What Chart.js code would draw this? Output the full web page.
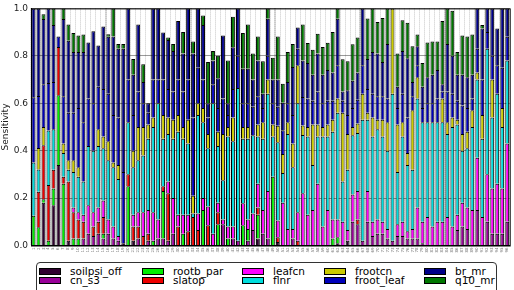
<!DOCTYPE html>
<html>
<head>
<title>Sensitivity</title>
<script src="https://cdn.jsdelivr.net/npm/chart.js"></script>
<style>
  body { margin: 0; background: #fff; font-family: "DejaVu Sans", sans-serif; }
  #wrap { position: relative; width: 514px; height: 290px; overflow: hidden; }
  #box { position: absolute; left: 36px; top: 262px; width: 459px; height: 40px;
         border: 1.5px solid #333; border-radius: 4px; }
  .txt { position: absolute; font-size: 10.5px; line-height: 10px; color: #000; white-space: nowrap; }
  .sw { position: absolute; width: 20px; height: 5px; border: 1px solid #000; }
</style>
</head>
<body>
<div id="wrap">
  <canvas id="chart" width="514" height="258"></canvas>
  <div id="box"></div>
</div>
<script>
const names = ["soilpsi_off", "cn_s3", "rootb_par", "slatop", "leafcn",
               "flnr", "frootcn", "froot_leaf", "br_mr", "q10_mr"];
const colors = ["#300030", "#990099", "#00ee00", "#ee0000", "#ff00ff",
                "#00dddd", "#cccc00", "#0000bb", "#000088", "#007700"];

const labels = [];
for (let i = 1; i <= 96; i++) labels.push(String(i));

const soilpsi_off = [0,0,.18,0,.17,.34,0,.02,0,0, 0,0,0,0,0,0,0,0,.01,0, .02,0,0,0,0,0,0,0,0,0,
  0,0,0,0,0,0,0,0,0,0, 0,0,0,0,0,.03,0,0,0,.015, 0,0,0,0,0,0,0,0,0,0, 0,.01,0,.02,0,0,0,0,0,0,
  0,0,0,0,0,0,0,0,0,0, 0,0,0,0,0,0,0,0,0,0, 0,0,0,0,0,0];
const cn_s3 = [0,0,0,0,0,0,0,0,0,0, .03,.05,.04,.05,.03,.05,.03,.02,0,0, 0,.03,0,.02,0,.03,.03,.02,.05,0,
  0,0,0,0,0,0,0,0,.09,0, .03,.02,0,.02,.065,0,.05,.03,0,0, 0,0,.03,0,0,0,0,0,0,0, 0,0,0,0,.1,.09,.02,.1,.04,.05,
  .05,.03,.02,.04,.04,.03,.03,.03,.01,0, 0,0,0,0,0,.065,.08,.07,0,.15, 0,.1,.05,.05,.05,.1];
const rootb_par = [.125,.077,.015,.02,.07,.294,.26,0,.03,.03, 0,0,0,0,.02,0,0,0,0,.25, 0,0,0,0,.02,0,.2,0,0,0,
  .05,0,0,0,.15,0,0,.09,0,.03, 0,0,.085,.05,0,.1,0,0,.29,0, 0,0,0,0,0,0,0,0,0,0, .03,.025,0,0,0,0,0,0,0,0,
  0,0,0,0,0,0,0,0,0,0, 0,0,0,0,0,0,0,0,0,0, 0,0,0,0,0,0];
const slatop = [0,.15,.228,.235,.08,.203,.03,.25,.11,.08, .07,0,.04,.05,.07,0,0,0,0,.05, .06,.05,.04,.03,0,0,.02,.2,0,.08,
  0,.06,.12,.065,0,.085,0,.05,0,0, 0,0,0,0,0,.03,0,0,0,.02, 0,0,0,.02,0,0,0,0,0,0, 0,0,0,0,0,.02,0,0,0,0,
  0,0,0,0,0,0,0,0,0,0, 0,0,0,0,0,0,0,0,0,0, 0,0,0,0,0,0];
const leafcn = [0,0,0,0,0,0,0,0,.02,.03, .03,.12,.06,.06,.07,.06,.05,.02,0,0, .05,.06,.1,.1,.12,.08,0,.05,.15,.05,
  .08,.07,0,.07,.05,.08,.05,.04,.02,.05, .05,0,.093,.04,.07,.1,.1,.2,0,.07, .18,.07,.04,.12,.22,.13,.15,.26,.08,.15,
  .08,.075,.1,.045,.115,.12,0,.13,.06,.06, .05,.04,0,.05,.06,.03,.04,.13,.09,.12, .08,.1,.1,.12,.08,.065,.1,.09,.15,.22,
  .12,.2,.19,.21,.19,.33];
const flnr = [.225,.094,0,.23,.17,0,.1,.05,.15,.15, .14,.25,.26,.26,.22,.25,.25,.24,0,.22, .2,.22,.24,.3,.36,.49,.2,.2,.25,.35,
  .32,.3,.015,.415,.32,.245,.55,.24,.165,.38, .36,.644,.272,.34,.33,.2,.3,.41,.17,.33, .126,.4,.26,.46,.246,.33,.19,.2,.38,.31,
  .37,.45,.17,.255,.25,.245,.51,.3,.36,.38, .36,.33,.62,.22,.36,.28,.25,.46,.42,.4, .44,.42,.42,.35,.42,.38,.22,.25,.35,.33,
  .33,.53,.3,.38,.26,.35];
const frootcn = [0,.09,.077,0,0,0,.04,.04,.05,.04, 0,0,0,.07,.05,.08,.02,.06,0,0, .07,.14,.12,.06,.04,0,.1,.07,.08,.07,
  .05,.1,.075,.05,.06,.06,0,.06,.195,.04, .1,0,.05,.05,0,.05,.07,.06,.05,.07, .08,.05,.1,.16,.04,.04,.17,.05,.04,.05,
  .05,.06,.29,.15,.035,.04,.11,.03,.08,.04, .07,.12,.36,.2,.06,.05,.25,.09,0,0, 0,0,.1,.05,.04,.02,.07,.07,.07,.03,
  .1,0,.16,0,.08,0];
const froot_leaf = [.275,.22,.18,.2,.2,.045,.2,.2,.2,.25, .25,.2,.2,.18,.2,.2,.2,.2,.3,.18, .15,.15,.1,.05,.16,.1,.15,.12,.12,.15,
  .15,.17,.33,.15,.12,.07,.08,.1,.15,.05, .12,.136,.1,.1,.12,.12,.06,.1,.09,.08, .1,.08,.12,.07,.12,.12,.1,.14,.1,.1,
  .08,.14,.05,.08,.08,.1,.12,.1,.1,.1, .1,.1,0,.07,.12,.15,.06,.05,.06,.08, .08,.1,.03,.13,.1,.08,.12,.1,.05,.1,
  .15,.07,.1,.12,.17,.1];
const br_mr = [.375,.369,.275,.315,.24,0,.325,.304,.256,.236, .296,.236,.304,.173,.264,.24,.332,.29,.52,.3,
  .17,.282,.09,.04,.3,.3,.198,.207,.17,.247, .16,.3,.27,.25,.23,.06,.1,.125,.266,.05,
  .176,.2,.145,.145,.115,.15,.06,.156,.1,.115, .116,.09,.203,.089,.154,.15,.11,.16,.12,.13,
  .12,.196,.04,.105,.115,.115,.24,.127,.176,.18, .144,.23,0,.09,.18,.25,.06,.08,.09,.11,
  .12,.12,.03,.2,.16,.11,.13,.13,.1,.17, .215,.1,.2,.155,.25,.12];
const q10_mr = [0,0,.02,0,.07,0,.045,.068,.08,.07, .074,0,0,0,0,.011,.118,.02,.02,0, .067,0,.074,0,0,0,0,.01,.03,0,
  .09,0,.05,0,.04,.174,.04,.095,0,.18, .129,0,.151,.187,.11,.102,.137,.044,.092,.182, .08,.126,.097,0,.152,.084,.106,.083,.117,.115,
  .17,.044,.136,.122,.154,.147,0,.17,.184,.133, .186,.15,0,.14,.13,.15,.15,.05,.1,.146, .14,.12,.267,.15,.19,.096,.166,.172,.17,0,
  .015,0,0,0,0,0];

const series = [soilpsi_off, cn_s3, rootb_par, slatop, leafcn, flnr, frootcn, froot_leaf, br_mr, q10_mr];
const bands = [15, 32, 49, 66, 83];

const datasets = series.map(function (vals, k) {
  return {
    label: names[k],
    data: vals,
    backgroundColor: colors[k],
    borderColor: "#000",
    borderWidth: 1,
    barPercentage: 1,
    categoryPercentage: 0.78
  };
});

const frame = {
  id: "frame",
  afterDraw(chart) {
    const a = chart.chartArea, c = chart.ctx;
    c.save();
    c.strokeStyle = "#000";
    c.lineWidth = 1;
    c.strokeRect(a.left + 0.5, a.top + 0.5, a.right - a.left, a.bottom - a.top);
    c.restore();
  }
};

new Chart(document.getElementById("chart"), {
  type: "bar",
  data: { labels: labels, datasets: datasets },
  plugins: [frame],
  options: {
    responsive: false,
    animation: false,
    devicePixelRatio: 1,
    layout: { padding: { top: 8, right: 0, left: 0, bottom: 0 } },
    plugins: { legend: { display: false }, tooltip: { enabled: false } },
    scales: {
      x: {
        stacked: true,
        z: 1,
        afterFit: function (s) { s.height = 12.5; },
        grid: {
          drawTicks: false,
          color: function (ctx) { return bands.includes(ctx.index) ? "rgba(140,140,140,0.75)" : "rgba(175,175,175,0.7)"; },
          lineWidth: function (ctx) { return bands.includes(ctx.index) ? 2 : 1; }
        },
        border: { display: true, color: "#000", dash: [1, 1] },
        ticks: {
          autoSkip: false, maxRotation: 90, minRotation: 90, padding: 2,
          color: "#777", font: { size: 4, family: "DejaVu Sans" }
        }
      },
      y: {
        stacked: true,
        min: 0, max: 1,
        z: 1,
        afterFit: function (s) { s.width = 31; },
        grid: { drawTicks: false, color: "rgba(0,0,0,0.4)", lineWidth: 1 },
        border: { display: true, color: "#000" },
        ticks: {
          stepSize: 0.2, padding: 3, color: "#222",
          font: { size: 9, family: "DejaVu Sans" },
          callback: function (v) { return v.toFixed(1); }
        },
        title: {
          display: true, text: "Sensitivity", color: "#222",
          font: { size: 9, family: "DejaVu Sans" }, padding: { top: 0, bottom: 2 }
        }
      }
    }
  }
});

// legend: 5 columns x 2 rows, filled column by column
const wrap = document.getElementById("wrap");
const colX = [39, 142, 242, 324, 424];
names.forEach(function (n, k) {
  const col = Math.floor(k / 2), row = k % 2;
  const sw = document.createElement("div");
  sw.className = "sw";
  sw.style.left = colX[col] + "px";
  sw.style.top = (268 + row * 9) + "px";
  sw.style.background = colors[k];
  wrap.appendChild(sw);
  const t = document.createElement("div");
  t.className = "txt";
  t.textContent = n;
  t.style.left = (colX[col] + 31) + "px";
  t.style.top = (266 + row * 8.5) + "px";
  wrap.appendChild(t);
});
</script>
</body>
</html>
